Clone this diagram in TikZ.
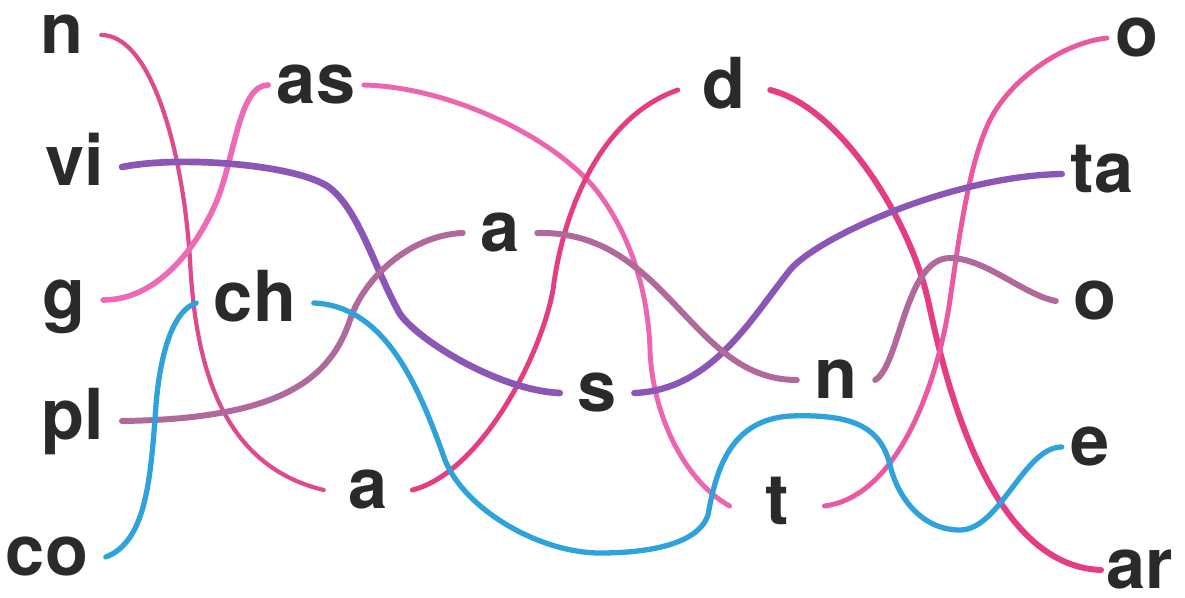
\documentclass[tikz,border=0pt]{standalone}
\usepackage{fontspec}
\setmainfont{TeX Gyre Heros}
\usepackage{xcolor}

\definecolor{inkgray}{HTML}{2A2A2A}
\definecolor{rosepink}{HTML}{DE4A8E}
\definecolor{lightpink}{HTML}{EE6AB6}
\definecolor{hotpink}{HTML}{E43D84}
\definecolor{violet}{HTML}{8C56B6}
\definecolor{mauve}{HTML}{B0699A}
\definecolor{skyblue}{HTML}{2EA2DA}

\begin{document}
\begin{tikzpicture}[
    x=0.01cm, y=-0.01cm,
    syl/.style={font=\fontsize{20}{24}\selectfont\bfseries, text=inkgray, text height=10.6pt, text depth=0pt, inner xsep=0.17cm, inner ysep=0pt},
    tight/.style={inner xsep=0.08cm},
    loose/.style={inner xsep=0.24cm},
    strand/.style={line cap=round, line width=1.5pt}
]
    \useasboundingbox (0,0) rectangle (1185,597);

    % syllables, left part
    \node[syl] (n1) at (62,35) {n};
    \node[syl, tight] (as) at (316,85) {as};
    \node[syl] (vi) at (75,167) {vi};
    \node[syl] (g) at (64,300) {g};
    \node[syl] (ch) at (255,303) {ch};
    \node[syl] (pl) at (73,421) {pl};
    \node[syl, loose] (a1) at (368,490) {a};
    \node[syl] (co) at (47,557) {co};

    % syllables, middle part
    \node[syl, loose] (d) at (724,90) {d};
    \node[syl] (a2) at (500,233) {a};
    \node[syl] (s) at (597,393) {s};
    \node[syl] (n2) at (836,380) {n};
    \node[syl, inner xsep=0.35cm] (t) at (777,506) {t};

    % syllables, right part
    \node[syl, tight] (o1) at (1137,38) {o};
    \node[syl, tight] (ta) at (1102,174) {ta};
    \node[syl] (o2) at (1095,301) {o};
    \node[syl, tight] (e) at (1090,447) {e};
    \node[syl, inner xsep=0.05cm] (ar) at (1140,570) {ar};

    % pink strands
    \draw[strand, rosepink, line width=1.2pt] (n1.east) .. controls +(50,0) and +(-7,-110) .. (190,260)
        .. controls +(5,100) and +(-105,-25) .. (a1.west);
    \draw[strand, lightpink, line width=1.6pt] (g.east) .. controls +(53,0) and +(-20,45) .. (215,205)
        .. controls +(20,-45) and +(-30,0) .. (as.west);
    \draw[strand, lightpink!85!rosepink, line width=1.4pt] (as.east) .. controls +(88,2) and +(-40,-55) .. (600,195)
        .. controls +(30,41) and +(-2,-60) .. (650,350)
        .. controls +(2,60) and +(-48,-27) .. (t.west);
    \draw[strand, hotpink, line width=1.4pt] (a1.east) .. controls +(67,-17) and +(-13,70) .. (553,290)
        .. controls +(10,-80) and +(-77,27) .. (d.west);
    \draw[strand, hotpink, line width=1.7pt] (d.east) .. controls +(70,17) and +(-18,-80) .. (928,300)
        .. controls +(15,70) and +(-115,-4) .. (ar.west);
    \draw[strand, lightpink!60!hotpink, line width=1.4pt] (t.east) .. controls +(78,-10) and +(-10,70) .. (950,300)
        .. controls +(10,-70) and +(-20,40) .. (990,120)
        .. controls +(20,-40) and +(-45,5) .. (o1.west);

    % violet strands
    \draw[strand, violet, line width=1.9pt] (vi.east) .. controls +(60,-12) and +(-30,-23) .. (330,188)
        .. controls +(30,24) and +(-25,-44) .. (400,314)
        .. controls +(18,26) and +(-62,-3) .. (s.west);
    \draw[strand, violet, line width=1.8pt] (s.east) .. controls +(77,-3) and +(-40,50) .. (790,270)
        .. controls +(25,-31) and +(-112,2) .. (ta.west);

    % mauve strands
    \draw[strand, mauve, line width=1.7pt] (pl.east) .. controls +(157,-2) and +(-20,60) .. (350,320)
        .. controls +(15,-45) and +(-50,2) .. (a2.west);
    \draw[strand, mauve, line width=1.7pt] (a2.east) .. controls +(130,-3) and +(-107,0) .. (n2.west);
    \draw[strand, mauve, line width=1.7pt] (n2.east) .. controls +(25,-15) and +(-45,0) .. (950,258)
        .. controls +(35,0) and +(-32,-6) .. (o2.west);

    % blue strands
    \draw[strand, skyblue] (co.east) .. controls +(40,-15) and +(-5,60) .. (155,420)
        .. controls +(3,-60) and +(-25,8) .. (ch.west);
    \draw[strand, skyblue] (ch.east) .. controls +(73,3) and +(-25,-70) .. (445,460)
        .. controls +(20,50) and +(-60,0) .. (600,553)
        .. controls +(60,0) and +(-8,25) .. (708,515)
        .. controls +(8,-45) and +(-60,4) .. (790,416)
        .. controls +(60,-2) and +(-10,-40) .. (890,465)
        .. controls +(7,30) and +(-40,0) .. (960,530)
        .. controls +(40,0) and +(-38,0) .. (e.west);
\end{tikzpicture}
\end{document}
